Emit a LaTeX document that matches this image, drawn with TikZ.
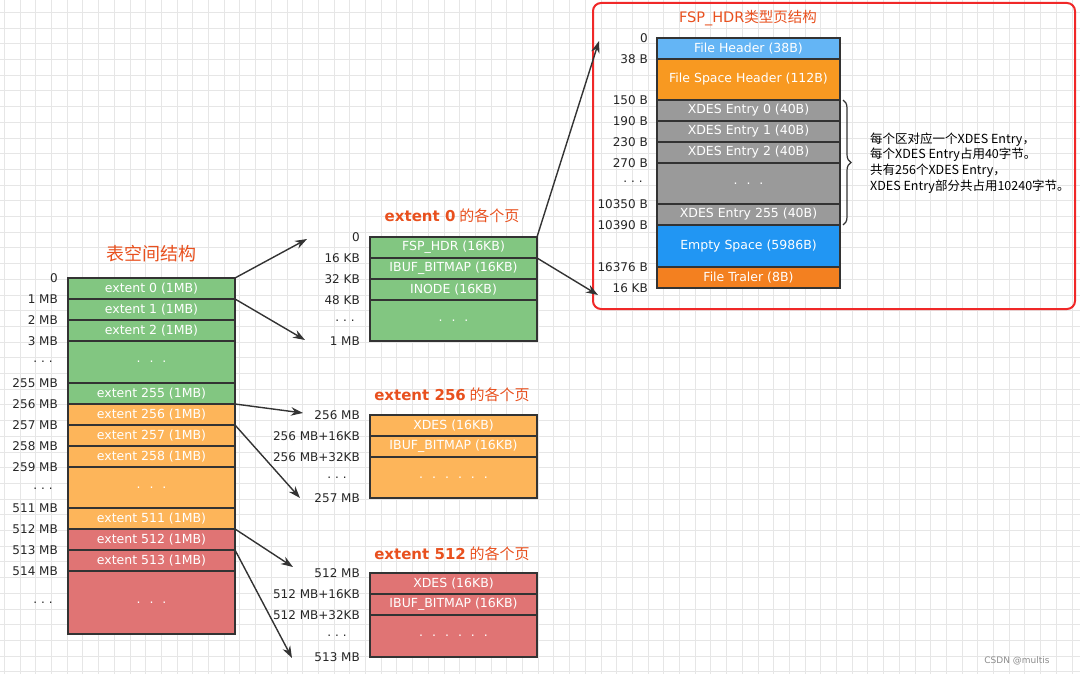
\documentclass[tikz,border=0pt]{standalone}
\usepackage{fontspec}
\setsansfont{DejaVu Sans}
\newfontfamily\cjk{Noto Sans CJK SC}
\usepackage{tikz}
\usetikzlibrary{
    arrows.meta,
    decorations.pathreplacing
}

\begin{document}
\begin{tikzpicture}[
    x=1pt, y=-1pt,
    font=\sffamily\fontsize{12}{14}\selectfont,
    cell/.style={
    	draw=box-line, line width=1.3pt,
    	minimum width=167pt, minimum height=21pt,
    	inner sep=0pt, outer sep=0pt, anchor=north west,
    	text=white, font=\sffamily\fontsize{12.5}{14}\selectfont
    }, wide/.style={
    	cell, minimum width=183pt
    }, lbl/.style={
    	anchor=east, inner sep=0pt, text=black!85
    }, ttl/.style={
    	inner sep=0pt, text=title-red
    }, pil/.style={
    	-{Stealth[length=12pt,width=8.5pt]},
    	line width=1.4pt, draw=black!80
    }]
    \definecolor{box-line}{RGB}{51, 51, 51}
    \definecolor{my-green}{RGB}{130, 198, 129}
    \definecolor{my-orange}{RGB}{253, 181, 90}
    \definecolor{my-red}{RGB}{224, 116, 116}
    \definecolor{my-gray}{RGB}{154, 154, 154}
    \definecolor{my-lblue}{RGB}{100, 181, 245}
    \definecolor{my-orange2}{RGB}{248, 153, 33}
    \definecolor{my-blue}{RGB}{33, 150, 243}
    \definecolor{my-orange3}{RGB}{243, 128, 32}
    \definecolor{title-red}{RGB}{232, 80, 30}
    \definecolor{frame-red}{RGB}{240, 40, 40}
    \definecolor{grid-gray}{RGB}{230, 230, 230}

    \useasboundingbox (0,0) rectangle (1080,674);

    %%% GRID
    \begin{scope}
    \clip (0,0) rectangle (1080,674);
    \draw[grid-gray, line width=0.7pt, xshift=4.3pt, yshift=-12.3pt] (-20,-20) grid[step=15.7pt] (1100,700);
    \end{scope}

    %%% TABLESPACE
    \node[ttl, font=\cjk\fontsize{18}{20}\selectfont] (ts-title) at (151,254) {表空间结构};

    \node[cell, fill=my-green] (ts-0) at (68,278) {extent 0 (1MB)};
    \node[cell, fill=my-green] (ts-1) at (68,299) {extent 1 (1MB)};
    \node[cell, fill=my-green] (ts-2) at (68,320) {extent 2 (1MB)};
    \node[cell, fill=my-green, minimum height=42pt] (ts-dots1) at (68,341) {.\hspace{9pt}.\hspace{9pt}.};
    \node[cell, fill=my-green] (ts-255) at (68,383) {extent 255 (1MB)};
    \node[cell, fill=my-orange] (ts-256) at (68,404) {extent 256 (1MB)};
    \node[cell, fill=my-orange] (ts-257) at (68,425) {extent 257 (1MB)};
    \node[cell, fill=my-orange] (ts-258) at (68,446) {extent 258 (1MB)};
    \node[cell, fill=my-orange, minimum height=41pt] (ts-dots2) at (68,467) {.\hspace{9pt}.\hspace{9pt}.};
    \node[cell, fill=my-orange] (ts-511) at (68,508) {extent 511 (1MB)};
    \node[cell, fill=my-red] (ts-512) at (68,529) {extent 512 (1MB)};
    \node[cell, fill=my-red] (ts-513) at (68,550) {extent 513 (1MB)};
    \node[cell, fill=my-red, minimum height=63pt] (ts-dots3) at (68,571) {.\hspace{9pt}.\hspace{9pt}.};

    \node[lbl] (ts-l0) at (58,278) {0};
    \node[lbl] (ts-l1) at (58,299) {1 MB};
    \node[lbl] (ts-l2) at (58,320) {2 MB};
    \node[lbl] (ts-l3) at (58,341) {3 MB};
    \node[lbl] (ts-l4) at (53,362) {.\hspace{4pt}.\hspace{4pt}.};
    \node[lbl] (ts-l5) at (58,383) {255 MB};
    \node[lbl] (ts-l6) at (58,404) {256 MB};
    \node[lbl] (ts-l7) at (58,425) {257 MB};
    \node[lbl] (ts-l8) at (58,446) {258 MB};
    \node[lbl] (ts-l9) at (58,467) {259 MB};
    \node[lbl] (ts-l10) at (53,489) {.\hspace{4pt}.\hspace{4pt}.};
    \node[lbl] (ts-l11) at (58,508) {511 MB};
    \node[lbl] (ts-l12) at (58,529) {512 MB};
    \node[lbl] (ts-l13) at (58,550) {513 MB};
    \node[lbl] (ts-l14) at (58,571) {514 MB};
    \node[lbl] (ts-l15) at (53,603) {.\hspace{4pt}.\hspace{4pt}.};

    %%% EXTENT 0
    \node[ttl] (e0-title) at (452,216) {{\bfseries\fontsize{15}{16}\selectfont extent 0} {\cjk\fontsize{15}{16}\selectfont 的各个页}};

    \node[cell, fill=my-green] (e0-fsp) at (370,237) {FSP\_HDR (16KB)};
    \node[cell, fill=my-green] (e0-ibuf) at (370,258) {IBUF\_BITMAP (16KB)};
    \node[cell, fill=my-green] (e0-inode) at (370,279) {INODE (16KB)};
    \node[cell, fill=my-green, minimum height=41pt] (e0-dots) at (370,300) {.\hspace{9pt}.\hspace{9pt}.};

    \node[lbl] (e0-l0) at (360,237) {0};
    \node[lbl] (e0-l1) at (360,258) {16 KB};
    \node[lbl] (e0-l2) at (360,279) {32 KB};
    \node[lbl] (e0-l3) at (360,300) {48 KB};
    \node[lbl] (e0-l4) at (355,321) {.\hspace{4pt}.\hspace{4pt}.};
    \node[lbl] (e0-l5) at (360,341) {1 MB};

    %%% EXTENT 256
    \node[ttl] (e256-title) at (452,395) {{\bfseries\fontsize{15}{16}\selectfont extent 256} {\cjk\fontsize{15}{16}\selectfont 的各个页}};

    \node[cell, fill=my-orange] (e256-xdes) at (370,415) {XDES (16KB)};
    \node[cell, fill=my-orange] (e256-ibuf) at (370,436) {IBUF\_BITMAP (16KB)};
    \node[cell, fill=my-orange, minimum height=41pt] (e256-dots) at (370,457) {.\hspace{9pt}.\hspace{9pt}.\hspace{9pt}.\hspace{9pt}.\hspace{9pt}.};

    \node[lbl] (e256-l0) at (360,415) {256 MB};
    \node[lbl] (e256-l1) at (360,436) {256 MB+16KB};
    \node[lbl] (e256-l2) at (360,457) {256 MB+32KB};
    \node[lbl] (e256-l3) at (347,478) {.\hspace{4pt}.\hspace{4pt}.};
    \node[lbl] (e256-l4) at (360,498) {257 MB};

    %%% EXTENT 512
    \node[ttl] (e512-title) at (452,554) {{\bfseries\fontsize{15}{16}\selectfont extent 512} {\cjk\fontsize{15}{16}\selectfont 的各个页}};

    \node[cell, fill=my-red] (e512-xdes) at (370,573) {XDES (16KB)};
    \node[cell, fill=my-red] (e512-ibuf) at (370,594) {IBUF\_BITMAP (16KB)};
    \node[cell, fill=my-red, minimum height=42pt] (e512-dots) at (370,615) {.\hspace{9pt}.\hspace{9pt}.\hspace{9pt}.\hspace{9pt}.\hspace{9pt}.};

    \node[lbl] (e512-l0) at (360,573) {512 MB};
    \node[lbl] (e512-l1) at (360,594) {512 MB+16KB};
    \node[lbl] (e512-l2) at (360,615) {512 MB+32KB};
    \node[lbl] (e512-l3) at (347,636) {.\hspace{4pt}.\hspace{4pt}.};
    \node[lbl] (e512-l4) at (360,657) {513 MB};

    %%% FSP_HDR page
    \draw[frame-red, line width=2pt, rounded corners=8pt] (593,3) rectangle (1075,309);
    \node[ttl] (hdr-title) at (748,18) {\fontsize{14.5}{16}\selectfont FSP\_HDR{\cjk 类型页结构}};

    \node[wide, fill=my-lblue] (hdr-fh) at (657,38) {File Header (38B)};
    \node[wide, fill=my-orange2, minimum height=41pt] (hdr-fsh) at (657,59) {File Space Header (112B)};
    \node[wide, fill=my-gray] (hdr-x0) at (657,100) {XDES Entry 0 (40B)};
    \node[wide, fill=my-gray] (hdr-x1) at (657,121) {XDES Entry 1 (40B)};
    \node[wide, fill=my-gray] (hdr-x2) at (657,142) {XDES Entry 2 (40B)};
    \node[wide, fill=my-gray, minimum height=41pt] (hdr-xdots) at (657,163) {.\hspace{9pt}.\hspace{9pt}.};
    \node[wide, fill=my-gray] (hdr-x255) at (657,204) {XDES Entry 255 (40B)};
    \node[wide, fill=my-blue, minimum height=42pt] (hdr-es) at (657,225) {Empty Space (5986B)};
    \node[wide, fill=my-orange3] (hdr-ft) at (657,267) {File Traler (8B)};

    \node[lbl] (hdr-l0) at (648,38) {0};
    \node[lbl] (hdr-l1) at (648,59) {38 B};
    \node[lbl] (hdr-l2) at (648,100) {150 B};
    \node[lbl] (hdr-l3) at (648,121) {190 B};
    \node[lbl] (hdr-l4) at (648,142) {230 B};
    \node[lbl] (hdr-l5) at (648,163) {270 B};
    \node[lbl] (hdr-l6) at (643,182) {.\hspace{4pt}.\hspace{4pt}.};
    \node[lbl] (hdr-l7) at (648,204) {10350 B};
    \node[lbl] (hdr-l8) at (648,225) {10390 B};
    \node[lbl] (hdr-l9) at (648,267) {16376 B};
    \node[lbl] (hdr-l10) at (648,288) {16 KB};

    \draw[decorate, decoration={brace, amplitude=8pt}, line width=1.2pt, black!80]
    	([xshift=3pt]hdr-x0.north east) -- ([xshift=3pt]hdr-x255.south east);
    \node[anchor=west, align=left, inner sep=0pt, font=\cjk\fontsize{12.5}{15.7}\selectfont] (hdr-note) at (870,163)
    	{每个区对应一个XDES Entry，\\每个XDES Entry占用40字节。\\共有256个XDES Entry，\\XDES Entry部分共占用10240字节。};

    \node[text=black!45, font=\sffamily\fontsize{9}{10}\selectfont] (mark) at (1017,661) {CSDN @multis};

    %%% EDGES
    \coordinate (to-e0-top) at (307,239);
    \coordinate (to-e0-bot) at (305,340);
    \coordinate (to-e256-top) at (303,413);
    \coordinate (to-e256-bot) at (300,498);
    \coordinate (to-e512-top) at (293,567);
    \coordinate (to-e512-bot) at (292,658);
    \coordinate (to-hdr-top) at (599,41);
    \coordinate (to-hdr-bot) at (598,295);

    \draw[pil] (ts-0.north east) -- (to-e0-top);
    \draw[pil] (ts-1.north east) -- (to-e0-bot);
    \draw[pil] (ts-256.north east) -- (to-e256-top);
    \draw[pil] (ts-257.north east) -- (to-e256-bot);
    \draw[pil] (ts-512.north east) -- (to-e512-top);
    \draw[pil] (ts-513.north east) -- (to-e512-bot);
    \draw[pil] (e0-fsp.north east) -- (to-hdr-top);
    \draw[pil] (e0-ibuf.north east) -- (to-hdr-bot);
    %%% EDGES

\end{tikzpicture}
\end{document}
